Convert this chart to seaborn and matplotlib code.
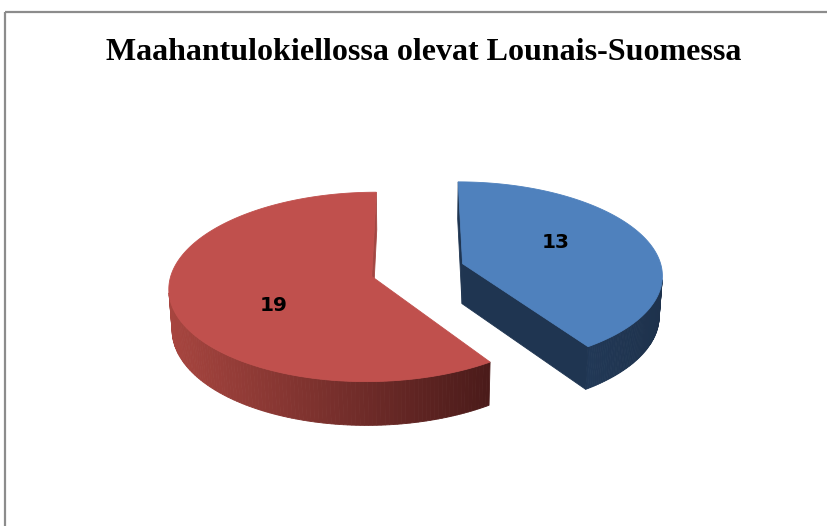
import numpy as np
import matplotlib
matplotlib.use("Agg")
import matplotlib.pyplot as plt
import seaborn as sns
from matplotlib.patches import Polygon, Rectangle
from matplotlib.colors import to_rgb

sns.set_style("white")

# data
title = "Maahantulokiellossa olevat Lounais-Suomessa"
values = [13, 19]
labels = ["13", "19"]
top_colors = ["#4F81BD", "#C0504D"]
side_light = ["#213856", "#A7453F"]
side_dark = ["#1E324C", "#4B1B1A"]
cut_colors = ["#1F3551", "#A34743"]

# 3d view (figure pixels)
cx, cy = 417.5, 270.0
elev = np.radians(27.5)
dist = 8.07
focal = 1610.0
depth = 0.23
explode = 0.238
cam = np.array([0.0, -dist * np.cos(elev), dist * np.sin(elev)])


def project(X, Y, Z):
    X, Y, Z = np.asarray(X), np.asarray(Y), np.asarray(Z)
    v = Y * np.sin(elev) + Z * np.cos(elev)
    w = Y * np.cos(elev) - Z * np.sin(elev)
    return cx + focal * X / (dist + w), cy - focal * v / (dist + w)


def visible(normal, point):
    return np.dot(normal, cam - np.asarray(point)) > 0


def mix(c1, c2, t):
    a, b = np.array(to_rgb(c1)), np.array(to_rgb(c2))
    return tuple(a * (1 - t) + b * t)


fig = plt.figure(figsize=(8.28, 5.26), dpi=100)
ax = fig.add_axes([0, 0, 1, 1])
ax.set_xlim(0, 828)
ax.set_ylim(526, 0)
ax.axis("off")

# chart border
ax.add_patch(Rectangle((5, 11.5), 840, 540, fill=False, edgecolor="#8C8C8C", lw=1.6))

ax.text(423.5, 53, title, ha="center", va="center", fontsize=23,
        fontweight="bold", family="Liberation Serif", color="black")

# slice angles, clockwise from 12 o'clock
total = float(sum(values))
edges = np.concatenate([[0.0], np.cumsum(values) / total * 2 * np.pi])
slices = []
for i in range(len(values)):
    t0, t1 = edges[i], edges[i + 1]
    tm = (t0 + t1) / 2
    ox, oy = explode * np.sin(tm), explode * np.cos(tm)
    slices.append((i, t0, t1, tm, ox, oy))

# far slices first
for i, t0, t1, tm, ox, oy in sorted(slices, key=lambda s: -s[5]):
    th = np.linspace(t0, t1, 200)
    xs, ys = ox + np.sin(th), oy + np.cos(th)
    tx, ty = project(xs, ys, 0.0)
    bx, by = project(xs, ys, -depth)

    # outer wall
    segs = []
    for k in range(len(th) - 1):
        m = (th[k] + th[k + 1]) / 2
        n = np.array([np.sin(m), np.cos(m), 0.0])
        p = [ox + np.sin(m), oy + np.cos(m), -depth / 2]
        if visible(n, p):
            segs.append(k)
    if segs:
        xmin = min(tx[k] for k in segs)
        xmax = max(tx[k + 1] for k in segs)
        for k in segs:
            t = ((tx[k] + tx[k + 1]) / 2 - xmin) / max(xmax - xmin, 1)
            col = mix(side_light[i], side_dark[i], t)
            quad = [(tx[k], ty[k]), (tx[k + 1], ty[k + 1]),
                    (bx[k + 1], by[k + 1]), (bx[k], by[k])]
            ax.add_patch(Polygon(quad, closed=True, facecolor=col,
                                 edgecolor=col, lw=0.6))

    # cut faces
    for ang, n in [(t0, np.array([-np.cos(t0), np.sin(t0), 0.0])),
                   (t1, np.array([np.cos(t1), -np.sin(t1), 0.0]))]:
        rx, ry = ox + np.sin(ang), oy + np.cos(ang)
        mid = [(ox + rx) / 2, (oy + ry) / 2, -depth / 2]
        if visible(n, mid):
            px, py = project([ox, rx, rx, ox], [oy, ry, ry, oy],
                             [0, 0, -depth, -depth])
            ax.add_patch(Polygon(np.column_stack([px, py]), closed=True,
                                 facecolor=cut_colors[i], edgecolor=cut_colors[i], lw=0.6))

    # top face
    vx, vy = project(ox, oy, 0.0)
    poly = np.column_stack([np.concatenate([[vx], tx]), np.concatenate([[vy], ty])])
    ax.add_patch(Polygon(poly, closed=True, facecolor=top_colors[i],
                         edgecolor=top_colors[i], lw=0.6))

    lx, ly = project(ox + 0.5 * np.sin(tm), oy + 0.95 * np.cos(tm), 0.0)
    ax.annotate(labels[i], (lx, ly), xytext=(2, -2), textcoords="offset points",
                ha="center", va="center", fontsize=14.5,
                fontweight="bold", family="DejaVu Sans", color="black")

fig.savefig("out.png", dpi=100)
